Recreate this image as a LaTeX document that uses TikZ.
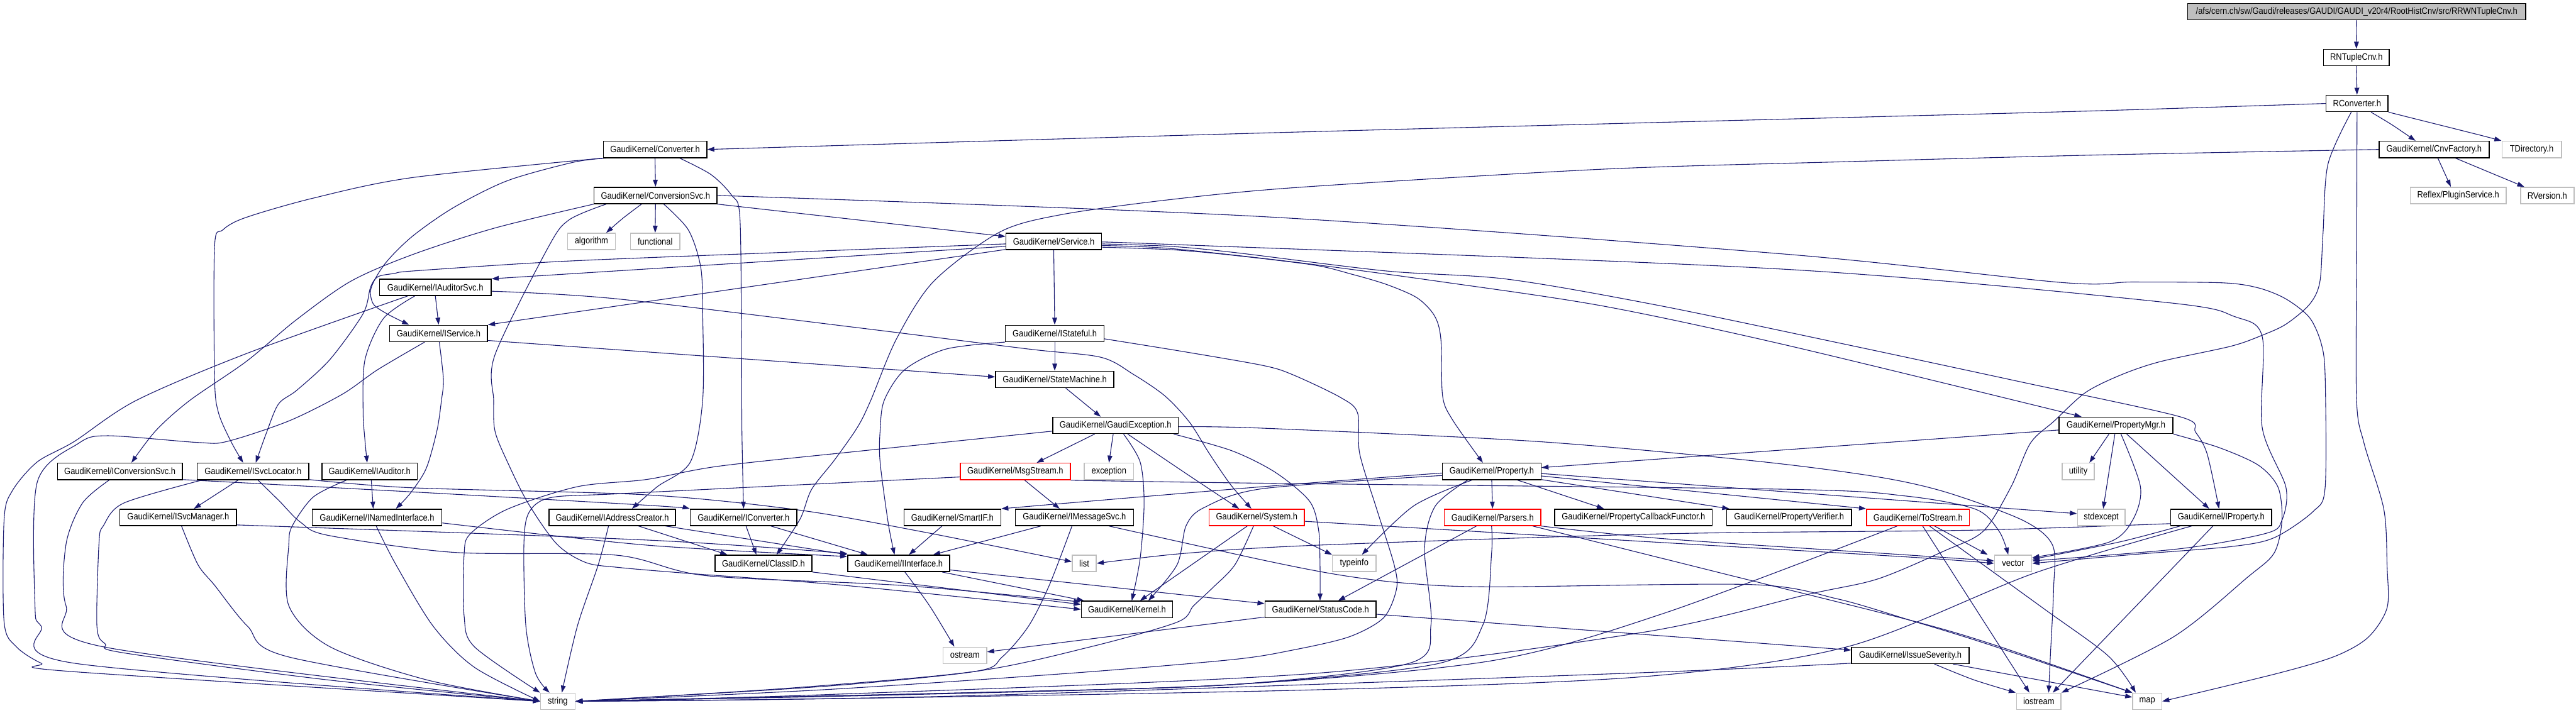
\documentclass[tikz,border=0pt]{standalone}
\usepackage{fontspec}
\setmainfont{Liberation Sans}[FakeStretch=0.885]
\usetikzlibrary{arrows.meta}
\definecolor{edgeblue}{HTML}{191970}
\definecolor{sysgray}{HTML}{BFBFBF}
\pgfdeclarelayer{bg}
\pgfdeclarelayer{edges}
\pgfsetlayers{bg,edges,main}
\tikzset{
  hdr/.style={draw=black, fill=white, line width=0.55pt, minimum height=10pt, inner sep=0pt, font=\fontsize{5.6}{6.5}\selectfont, text=black},
  sysh/.style={hdr, draw=sysgray},
  redh/.style={hdr, draw=red},
  roothdr/.style={hdr, fill=sysgray},
  dep/.style={draw=edgeblue, line width=0.42pt, -{Triangle[length=4.3pt,width=2.9pt]}, line join=round},
}
\newcommand{\depcurve}[1]{\draw[dep] plot[smooth,tension=0.5] coordinates {#1};}
\begin{document}
\begin{tikzpicture}[x=1pt,y=-1pt]
\begin{pgfonlayer}{bg}
\fill[white] (0,0) rectangle (1568,434);
\end{pgfonlayer}
\useasboundingbox (0,0) rectangle (1568,434);
% ---------- nodes ----------
\node[roothdr, minimum width=205.7pt] (root) at (1434.5,7) {/afs/cern.ch/sw/Gaudi/releases/GAUDI/GAUDI\_v20r4/RootHistCnv/src/RRWNTupleCnv.h};
\node[hdr, minimum width=40pt] (rntuple) at (1434.3,35) {RNTupleCnv.h};
\node[hdr, minimum width=37.7pt] (rconv) at (1434.7,63) {RConverter.h};
\node[hdr, minimum width=67pt] (cnvfac) at (1481.6,91) {GaudiKernel/CnvFactory.h};
\node[sysh, minimum width=36.2pt] (tdir) at (1541,91) {TDirectory.h};
\node[sysh, minimum width=58.5pt] (plugin) at (1496.3,119) {Reflex/PluginService.h};
\node[sysh, minimum width=32.5pt] (rver) at (1550.5,119) {RVersion.h};
\node[hdr, minimum width=63pt] (conv) at (398.7,91) {GaudiKernel/Converter.h};
\node[hdr, minimum width=74.7pt] (convsvc) at (399,119) {GaudiKernel/ConversionSvc.h};
\node[sysh, minimum width=29pt] (algo) at (360,147) {algorithm};
\node[sysh, minimum width=30pt] (func) at (398.8,147) {functional};
\node[hdr, minimum width=58.2pt] (service) at (641.4,147) {GaudiKernel/Service.h};
\node[hdr, minimum width=68pt] (iaudsvc) at (265,175) {GaudiKernel/IAuditorSvc.h};
\node[hdr, minimum width=59.5pt] (iservice) at (267,203) {GaudiKernel/IService.h};
\node[hdr, minimum width=60pt] (istateful) at (642,203) {GaudiKernel/IStateful.h};
\node[hdr, minimum width=72pt] (statem) at (642,231) {GaudiKernel/StateMachine.h};
\node[hdr, minimum width=76.3pt] (gexc) at (679,259) {GaudiKernel/GaudiException.h};
\node[hdr, minimum width=69.3pt] (propmgr) at (1288,259) {GaudiKernel/PropertyMgr.h};
\node[redh, minimum width=67pt] (msgs) at (618,287) {GaudiKernel/MsgStream.h};
\node[sysh, minimum width=30pt] (excp) at (675,287) {exception};
\node[hdr, minimum width=76pt] (iconvsvc) at (73,287) {GaudiKernel/IConversionSvc.h};
\node[hdr, minimum width=68pt] (isvcloc) at (154,287) {GaudiKernel/ISvcLocator.h};
\node[hdr, minimum width=58pt] (iaud) at (225,287) {GaudiKernel/IAuditor.h};
\node[hdr, minimum width=60pt] (prop) at (908,287) {GaudiKernel/Property.h};
\node[sysh, minimum width=19.5pt] (util) at (1265,287) {utility};
\node[hdr, minimum width=71pt] (isvcmgr) at (108.5,315) {GaudiKernel/ISvcManager.h};
\node[hdr, minimum width=79pt] (inamed) at (229.5,315) {GaudiKernel/INamedInterface.h};
\node[hdr, minimum width=77pt] (iaddr) at (372.7,315) {GaudiKernel/IAddressCreator.h};
\node[hdr, minimum width=65pt] (iconv) at (452.6,315) {GaudiKernel/IConverter.h};
\node[hdr, minimum width=59pt] (smartif) at (579.7,315) {GaudiKernel/SmartIF.h};
\node[hdr, minimum width=72pt] (imsgsvc) at (654,315) {GaudiKernel/IMessageSvc.h};
\node[redh, minimum width=58pt] (system) at (765,315) {GaudiKernel/System.h};
\node[redh, minimum width=58.6pt] (parsers) at (908.5,315) {GaudiKernel/Parsers.h};
\node[hdr, minimum width=96pt] (propcb) at (994.3,315) {GaudiKernel/PropertyCallbackFunctor.h};
\node[hdr, minimum width=76pt] (propver) at (1089,315) {GaudiKernel/PropertyVerifier.h};
\node[redh, minimum width=62.7pt] (tostream) at (1167.5,315) {GaudiKernel/ToStream.h};
\node[sysh, minimum width=29pt] (stdexc) at (1279,315) {stdexcept};
\node[hdr, minimum width=61.3pt] (iprop) at (1352,315) {GaudiKernel/IProperty.h};
\node[hdr, minimum width=59pt] (classid) at (464.7,343) {GaudiKernel/ClassID.h};
\node[hdr, minimum width=62pt] (iintf) at (547,343) {GaudiKernel/IInterface.h};
\node[sysh, minimum width=14.6pt] (list) at (660,343) {list};
\node[sysh, minimum width=26.6pt] (typeinfo) at (824.3,343) {typeinfo};
\node[sysh, minimum width=22.7pt] (vector) at (1225.4,343) {vector};
\node[hdr, minimum width=55.7pt] (kernel) at (686,371) {GaudiKernel/Kernel.h};
\node[hdr, minimum width=67.6pt] (statusc) at (803.8,371) {GaudiKernel/StatusCode.h};
\node[sysh, minimum width=26.5pt] (ostream) at (587.3,399) {ostream};
\node[hdr, minimum width=71.6pt] (issue) at (1162.8,399) {GaudiKernel/IssueSeverity.h};
\node[sysh, minimum width=21pt] (string) at (339.5,427) {string};
\node[sysh, minimum width=27pt] (iostream) at (1241,427) {iostream};
\node[sysh, minimum width=17.7pt] (map) at (1307,427) {map};
% ---------- edges ----------
\begin{pgfonlayer}{edges}
\draw[dep] (root.south) -- (rntuple.north);
\draw[dep] (rntuple.south) -- (rconv.north);
\depcurve{(rconv.west) (1275,67.5) (1125,71.5) (768,81) (conv.east)}
\depcurve{([xshift=8.5pt]rconv.south) (1456,76) ([xshift=-11.3pt]cnvfac.north)}
\depcurve{(rconv.south east) (1480.6,75) (1510.5,82.5) (tdir.north west)}
\draw[dep] ([xshift=2.3pt]cnvfac.south) -- ([xshift=-4.5pt]plugin.north);
\depcurve{([xshift=13pt]cnvfac.south) (1517.9,106) ([xshift=-14pt]rver.north)}
\depcurve{(cnvfac.west) (1275,94.4) (1125,98.4) (975.6,103) (791.4,114) (712.5,121.5) (646.4,130.6) (608.5,141.3) (568.3,171.3) (545.7,206.3) (530,243.8) (522,260) (508,280) (494,298) (487,316) ([xshift=8pt]classid.north)}
\depcurve{([xshift=-3.5pt]rconv.south) (1417,100) (1414,142) (1412,172) (1405.7,185.4) (1391.4,197.4) (1377,204.1) (1357.9,210.8) (1314.8,220.2) (1290.9,228.3) (1269.4,239) (1250.3,256.4) (1235.9,269.8) (1224,296.6) (1207.2,323.4) (1183.3,335.5) (1142.6,352.6) (1100,362) (1000,385) (800,410) (500,423) (string.east)}
\depcurve{(rconv.south) (1434.5,150) (1434.4,243) (1439,270) (1451,310) (1453,345) (1453,370) (1441.5,388) (1421.7,399.4) (1387.8,409.6) (map.east)}
% Converter
\draw[dep] (conv.south) -- (convsvc.north);
\depcurve{([xshift=15pt]conv.south) (432.8,106.3) (445.3,118.8) (450.3,131.3) (451.3,200) (451.6,262.5) (iconv.north)}
\depcurve{(conv.south west) (251.1,108.1) (190.8,120.6) (149.4,132.5) (135.6,140) (130.6,150) (130.6,230) (133,251.3) (140.6,268.8) ([xshift=-6pt]isvcloc.north)}
\depcurve{([xshift=2pt]conv.south west) (349,98.8) (308.9,110) (276.2,126.3) (251.1,143.8) (234.8,160) (226,175) (227.2,185) (236,191.3) ([xshift=-18pt]iservice.north)}
% ConversionSvc
\depcurve{([xshift=-8.5pt]convsvc.south) (379,133) ([xshift=9pt]algo.north)}
\draw[dep] (convsvc.south) -- (func.north);
\draw[dep] (convsvc.south east) -- ([yshift=3pt]service.west);
\depcurve{(convsvc.south west) (301.3,138.8) (251.1,155) (213.4,171.3) (180,195) (150,220) (115.5,243.8) (95,262) ([xshift=7pt]iconvsvc.north)}
\depcurve{([xshift=5pt]convsvc.south) (419,140) (426.5,162.5) (427.7,190) (427.7,243.8) (420.2,281.3) (400.1,296.3) ([xshift=12pt]iaddr.north)}
\depcurve{([xshift=-30pt]convsvc.south) (346.5,133.8) (334,150) (301.3,216) (300.5,243.8) (301.3,262.5) (308.9,281.3) (321.4,306.3) (339,331.3) (356.6,342.5) (376.7,345.5) (417.7,349) (513,356.3) (kernel.west)}
\depcurve{(convsvc.east) (768.7,131.9) (1087.6,154.8) (1255,172) (1298,171.7) (1353,172.2) (1374.7,175.3) (1391.4,182) (1405.8,193.4) (1413,209.5) (1415.3,229.6) (1415.3,296.6) (1408.1,311.3) (1384.2,327.4) (1357.9,332.8) (1300,337.5) (vector.east)}
% Service
\draw[dep] (service.south) -- (istateful.north);
\draw[dep] ([yshift=-4.9pt]service.west) -- (iservice.north east);
\draw[dep] ([yshift=-3pt]service.west) -- (iaudsvc.north east);
\depcurve{([yshift=-1.5pt]service.west) (393.7,156.9) (326.4,160) (251.1,165) (240,166.5) (230,168.5) (225.5,175) (221,191) (200.9,218.8) (180.8,237.5) (169.5,246) (162,264) ([xshift=1.7pt]isvcloc.north)}
\depcurve{([yshift=-0.5pt]service.east) (712.5,148.8) (1087.6,164) (1317.2,184) (1360.3,192.8) (1377,205) (1377,260.4) (1391.4,296.6) (1389,316.7) (1379.4,324.7) (1326.8,334.1) ([yshift=1.5pt]vector.east)}
\depcurve{([yshift=-1.5pt]service.east) (712.5,150) (752,153.8) (844,165) (917.7,170) (1009.8,186) (1125,210) (1230,232.5) (1326.8,253.7) (1336.4,263.1) (1343.5,276.5) ([xshift=-1.3pt]iprop.north)}
\depcurve{([yshift=-2.5pt]service.east) (712.5,151.3) (791.4,160) (875.6,171.3) (975.6,186.3) (1087.6,210.2) ([xshift=-21pt]propmgr.north)}
\depcurve{([yshift=-3.5pt]service.east) (712.5,152) (746.7,155) (799.3,161.3) (823,167) (844,173.2) (862.5,181.3) (873,192) (877,206) (878.1,241.1) (884.2,255.7) ([xshift=-5.4pt]prop.north)}
% IAuditorSvc
\draw[dep] (iaudsvc.south) -- (iservice.north);
\depcurve{([xshift=-12.6pt]iaudsvc.south) (233.5,193.8) (222.2,218.8) (221,250) (222.2,268.8) ([xshift=-1.5pt]iaud.north)}
\depcurve{([xshift=-17pt]iaudsvc.south) (150.7,215) (82.9,243.8) (45.2,268.8) (22.6,281.3) (7.5,298.8) (2.5,316.3) (2.5,378.8) (10,393.8) (25.1,403.8) (42.7,408.8) (string.west)}
\depcurve{([yshift=-2.3pt]iaudsvc.east) (375,181.9) (526,200) (626,212.5) (670,217.5) (690,228) (709,241) (724,257) (736,276) (749,295) ([xshift=-3.3pt]system.north)}
% IService
\depcurve{([xshift=0.4pt]iservice.south) (269.9,231) (268.7,243.8) (266,262) (259.5,285) (250,300) ([xshift=11.5pt]inamed.north)}
\depcurve{([xshift=-8.5pt]iservice.south) (230,225) (208.4,240) (175.8,256.3) (138.1,268.8) (120.5,269.4) (65.3,265.3) (47.7,270) (22.6,293.8) (21.3,368.8) (25.1,381.3) (45.2,403.8) (string.west)}
\draw[dep] ([yshift=-4.3pt]iservice.east) -- ([yshift=1.5pt]statem.west);
% IStateful / StateMachine / GaudiException
\draw[dep] (istateful.south) -- (statem.north);
\depcurve{(istateful.south west) (575.9,212.5) (550.8,225) (538.2,243.8) (535.7,262.5) (535.7,281.3) (540.7,318.8) ([xshift=-2.5pt]iintf.north)}
\depcurve{([yshift=-3.3pt]istateful.east) (720,214) (768.7,222.5) (786.8,228.1) (815.8,241.9) (826.3,251.3) (827.6,276) (838,310) (848.7,344.2) (850,358.8) (842.1,376.2) (821,387.8) (786.8,395.8) (750,401.6) (650,410) (500,420) (string.east)}
\draw[dep] ([xshift=6.7pt]statem.south) -- ([xshift=-9pt]gexc.north);
\draw[dep] ([xshift=-12.7pt]gexc.south) -- ([xshift=13pt]msgs.north);
\draw[dep] ([xshift=-1.4pt]gexc.south) -- (excp.north);
\depcurve{([xshift=4.9pt]gexc.south) (694,281.3) (696.4,306.3) (694,340) ([xshift=2.9pt]kernel.north)}
\depcurve{([xshift=7.4pt]gexc.south) (720,287) ([xshift=-10.8pt]system.north)}
\depcurve{([xshift=-3pt]gexc.south east) (750,274.5) (776.3,287.6) (797,305) (802.6,322.5) (803.5,345) ([xshift=-0.3pt]statusc.north)}
\depcurve{([yshift=-3.5pt]gexc.west) (525.7,274.4) (437.8,283.8) (393.7,291.9) (351.5,296.3) (308.9,310) (286.3,325) (282.5,337.5) (282.5,375) (288.8,393.8) (string.north west)}
\depcurve{([yshift=-0.8pt]gexc.east) (768.7,260.7) (934.2,268.7) (1065.7,280.4) (1140.2,289.9) (1183.3,299.3) (1231.1,316.7) (1249.4,332) (1250,358.8) (1248,400) ([xshift=6pt]iostream.north)}
% MsgStream
\draw[dep] ([xshift=5.6pt]msgs.south) -- ([xshift=-9pt]imsgsvc.north);
\depcurve{([yshift=-3.4pt]msgs.west) (480,295.5) (375,300.7) (335,303) (322,312) (318.9,331.3) (320.1,381.3) (326,410) ([xshift=-5pt]string.north)}
\depcurve{([yshift=-5.4pt]msgs.east) (768.7,294.2) (1087.6,297.9) (1160,302) (1202.4,310) (1216.8,323.4) ([xshift=-3pt]vector.north)}
% IMessageSvc
\draw[dep] ([xshift=-20.5pt]imsgsvc.south) -- ([xshift=21pt]iintf.north);
\depcurve{([xshift=-1.5pt]imsgsvc.south) (638.7,356.3) (626,381.3) (610,400) (593.5,408.8) (500,418) (string.east)}
\depcurve{([xshift=21pt]imsgsvc.south) (768.7,341) (815,350) (855,355) (907.9,357.3) (1065.7,355.9) (1118.3,364.6) (1162.6,377.6) (1209.9,392.2) (map.north west)}
% SmartIF, IConverter, IAddressCreator
\draw[dep] ([xshift=-6.3pt]smartif.south) -- ([xshift=6.3pt]iintf.north);
\draw[dep] ([xshift=1.5pt]iconv.south) -- ([xshift=-4.3pt]classid.north);
\draw[dep] ([xshift=16.6pt]iconv.south) -- ([xshift=-18.8pt]iintf.north);
\draw[dep] ([xshift=16pt]iaddr.south) -- ([xshift=-22pt]classid.north);
\draw[dep] ([xshift=32.4pt]iaddr.south) -- (iintf.north west);
\depcurve{([xshift=-2.3pt]iaddr.south) (364.1,344) (351.5,381) ([xshift=2.5pt]string.north)}
% ClassID, IInterface
\draw[dep] (classid.south east) -- ([yshift=3pt]kernel.west);
\draw[dep] ([xshift=26.4pt]iintf.south) -- ([xshift=2pt]kernel.north west);
\depcurve{([xshift=3.8pt]iintf.south) (565.8,368.8) ([xshift=-6.4pt]ostream.north)}
\draw[dep] ([yshift=-4pt]iintf.east) -- ([yshift=3.5pt]statusc.west);
% ISvcLocator
\draw[dep] ([xshift=-9pt]isvcloc.south) -- ([xshift=9.5pt]isvcmgr.north);
\depcurve{([yshift=-5pt]isvcloc.east) (251.1,297) (393.7,301.3) (486,310.5) (560,323.5) ([yshift=1pt]list.west)}
\depcurve{([xshift=3pt]isvcloc.south) (170,305) (183,318) (200,326) (276.2,336.3) (375,338) (430,350.5) (550,356.5) ([yshift=4.5pt]kernel.west)}
\depcurve{([xshift=-31pt]isvcloc.south) (75.3,306.3) (63,320) (60.3,330) (59,381.3) (64,392) (75.3,397.5) (200,414) (string.west)}
% IConversionSvc
\depcurve{([xshift=-6.5pt]iconvsvc.south) (50.2,306.3) (40.2,331.3) (40.2,368.8) (62.8,393.8) (string.west)}
\depcurve{([yshift=-5pt]iconvsvc.east) (251.1,299.5) (393.7,307.6) (iconv.north west)}
% ISvcManager
\depcurve{([yshift=-4.6pt]isvcmgr.east) (393.7,328.8) ([yshift=6pt]iintf.west)}
\depcurve{([xshift=2pt]isvcmgr.south) (120.5,343.8) (130.6,356.3) (150.7,381.3) (175.8,400) (string.west)}
% INamedInterface
\depcurve{([yshift=-3.4pt]inamed.east) (393.7,331.9) ([yshift=4.2pt]iintf.west)}
\depcurve{([xshift=-0.5pt]inamed.south) (241,343.8) (263.7,381.3) (288.8,406.3) (string.west)}
% IAuditor
\draw[dep] ([xshift=1pt]iaud.south) -- ([xshift=-2.3pt]inamed.north);
\depcurve{([xshift=-14pt]iaud.south) (190.8,302.5) (178,320) (175.8,331.3) (175.8,368.8) (200.9,393.8) (260,414) (string.west)}
% Property
\draw[dep] (prop.south) -- (parsers.north);
\draw[dep] ([xshift=15.6pt]prop.south) -- ([xshift=-18pt]propcb.north);
\draw[dep] ([yshift=-5pt]prop.east) -- ([xshift=-36.4pt]propver.north);
\draw[dep] ([yshift=-2.8pt]prop.east) -- (tostream.north west);
\draw[dep] ([yshift=-1.3pt]prop.east) -- ([yshift=2.3pt]stdexc.west);
\depcurve{([xshift=-12pt]prop.south) (860.5,308) ([xshift=4.7pt]typeinfo.north)}
\depcurve{([xshift=-14.6pt]prop.south) (873.7,308) (867.1,334) (871,380.5) (857.9,403.8) (750,416.8) (600,421.5) (string.east)}
\depcurve{([yshift=-1pt]prop.west) (768.7,296.3) (smartif.north east)}
\depcurve{([yshift=-2.5pt]prop.west) (768.7,297.5) (733,309) (722,320) (716.5,343.8) ([xshift=13pt]kernel.north)}
% Parsers
\draw[dep] ([xshift=-9.8pt]parsers.south) -- ([xshift=10.7pt]statusc.north);
\depcurve{([xshift=-0.6pt]parsers.south) (907.9,337) (902.6,380.5) (876.3,403.8) (750,416.8) (600,421.5) (string.east)}
\depcurve{(parsers.south east) (1013,328) (1162.6,338) ([yshift=1.5pt]vector.west)}
\depcurve{([xshift=24.4pt]parsers.south) (1050,349.5) (1162.6,377.6) (1215,393) (map.north west)}
% System
\draw[dep] ([xshift=10pt]system.south) -- ([xshift=-13.5pt]typeinfo.north);
\draw[dep] ([xshift=-5.8pt]system.south) -- ([xshift=7.9pt]kernel.north);
\depcurve{([xshift=-2pt]system.south) (751.7,343.8) (738,358) (726.5,368.8) (716.5,378.8) (663.8,393.8) (593.5,408.8) (480,419) (string.east)}
\depcurve{([yshift=-2.4pt]system.east) (1013,330.4) (1162.6,339.2) (vector.west)}
% IProperty
\depcurve{([yshift=-3.8pt]iprop.west) (1200,322.8) (1013,325) (800,332) (720,337) (list.east)}
\depcurve{([xshift=-25pt]iprop.south) (1290,330) ([yshift=2.5pt]vector.east)}
\draw[dep] ([xshift=-5pt]iprop.south) -- ([xshift=8.5pt]iostream.north);
\depcurve{([xshift=-18pt]iprop.south) (1238.1,349) (1125,393.6) (1000,412) (800,420) (500,425.5) (string.east)}
% PropertyMgr
\depcurve{([yshift=-2.8pt]propmgr.west) (1087.6,273.8) ([yshift=2.3pt]prop.east)}
\draw[dep] ([xshift=-4.3pt]propmgr.south) -- ([xshift=6.8pt]util.north);
\draw[dep] ([xshift=-0.7pt]propmgr.south) -- ([xshift=1.2pt]stdexc.north);
\draw[dep] ([xshift=6.5pt]propmgr.south) -- ([xshift=-7.3pt]iprop.north);
\depcurve{([xshift=3pt]propmgr.south) (1302.9,296.6) (1298.1,316.7) (1283.7,330.1) ([yshift=3.5pt]vector.east)}
\depcurve{(propmgr.south east) (1350.7,272.5) (1374.6,283.2) (1386.6,296.6) (1389,316.7) (1384.2,336.8) (1368,351.5) (1322.9,387.8) (iostream.north east)}
% ToStream
\draw[dep] ([xshift=10pt]tostream.south) -- ([xshift=-15.5pt]vector.north);
\draw[dep] ([xshift=2.8pt]tostream.south) -- ([xshift=-5.7pt]iostream.north);
\depcurve{([xshift=7pt]tostream.south) (1243.8,370.4) (1283.3,399.4) ([xshift=-7pt]map.north)}
\depcurve{([xshift=-12.7pt]tostream.south) (1013.1,373.3) (907.9,402.3) (750,416.8) (550,423) (string.east)}
% StatusCode, IssueSeverity
\draw[dep] ([yshift=-3pt]statusc.east) -- ([yshift=3.2pt]issue.west);
\draw[dep] ([yshift=-4.7pt]statusc.west) -- ([yshift=2.1pt]ostream.east);
\depcurve{([xshift=14.6pt]issue.south) (1201.4,413.9) ([xshift=-14pt]iostream.north)}
\draw[dep] ([xshift=25.9pt]issue.south) -- ([yshift=2.5pt]map.west);
\depcurve{([yshift=-4.8pt]issue.west) (987.9,410) (581.3,423.8) (string.east)}
\end{pgfonlayer}
\end{tikzpicture}
\end{document}
